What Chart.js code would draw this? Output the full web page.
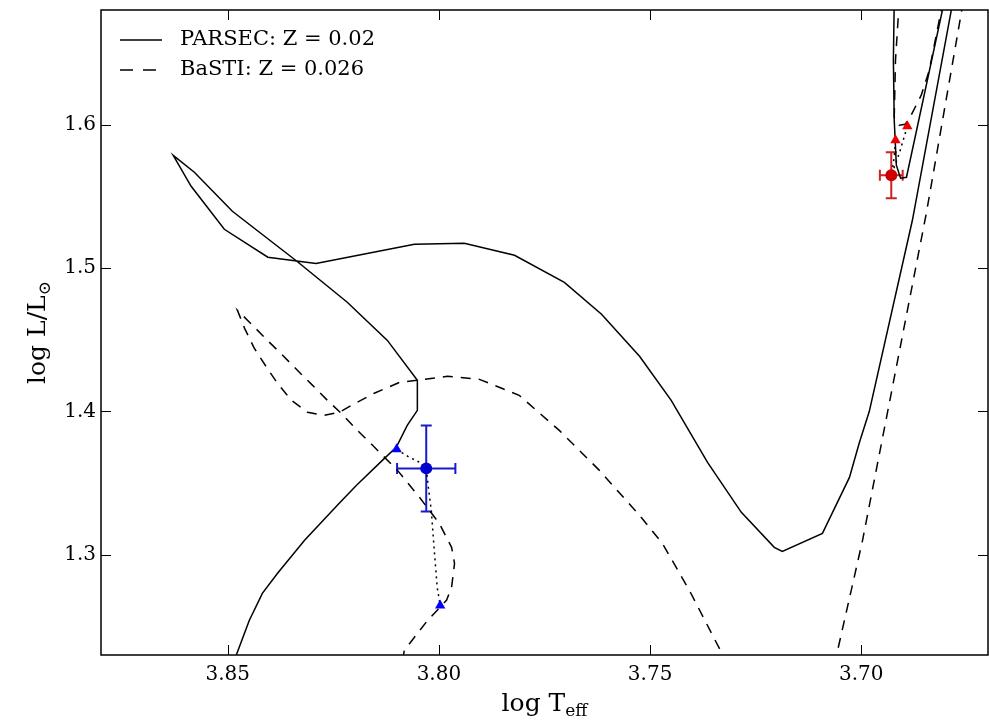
<!DOCTYPE html>
<html>
<head>
<meta charset="utf-8">
<script src="https://cdn.jsdelivr.net/npm/chart.js@4.4.0/dist/chart.umd.min.js"></script>
<style>
  body { margin: 0; background: #fff; }
</style>
</head>
<body>
<canvas id="hrChart" width="989" height="726"></canvas>
<script>
// ticks
const xTicks = [3.85, 3.80, 3.75, 3.70];
const yTicks = [1.3, 1.4, 1.5, 1.6];

// PARSEC isochrone, Z = 0.02 (log Teff, log L)
const parsecT = [3.8489, 3.8480, 3.8449, 3.8418, 3.8382, 3.8318, 3.8236, 3.8195, 3.8129, 3.8101,
  3.8075, 3.8051, 3.8051, 3.8122, 3.8217, 3.8337, 3.8489, 3.8579, 3.8629, 3.8587, 3.8508, 3.8405,
  3.8291, 3.8058, 3.7940, 3.7821, 3.7703, 3.7615, 3.7525, 3.7450, 3.7364, 3.7284, 3.7206, 3.7187,
  3.7092, 3.7028, 3.7005, 3.6981, 3.6879, 3.6787, 3.6782];
const parsecL = [1.2227, 1.2297, 1.2541, 1.2730, 1.2870, 1.3100, 1.3358, 1.3484, 1.3672, 1.3749,
  1.3902, 1.4007, 1.4216, 1.4495, 1.4761, 1.5049, 1.5396, 1.5668, 1.5786, 1.5572, 1.5270, 1.5075,
  1.5031, 1.5165, 1.5172, 1.5089, 1.4900, 1.4677, 1.4384, 1.4077, 1.3644, 1.3295, 1.3051, 1.3023,
  1.3149, 1.3539, 1.3777, 1.4000, 1.5333, 1.6798, 1.6868];
const parsecLoopT = [3.6922, 3.6924, 3.6922, 3.6917, 3.6907, 3.6893, 3.6808, 3.6803];
const parsecLoopL = [1.6868, 1.6449, 1.6031, 1.5717, 1.5626, 1.5633, 1.6798, 1.6868];

// BaSTI isochrone, Z = 0.026
const bastiT = [3.8086, 3.8082, 3.8027, 3.7982, 3.7970, 3.7963, 3.7970, 3.7999, 3.8046, 3.8098,
  3.8157, 3.8193, 3.8231, 3.8264, 3.8299, 3.8335, 3.8370, 3.8406, 3.8441, 3.8477, 3.8460, 3.8437,
  3.8408, 3.8382, 3.8349, 3.8311, 3.8271, 3.8236, 3.8207, 3.8153, 3.8093, 3.7980, 3.7904, 3.7810,
  3.7715, 3.7620, 3.7525, 3.7471, 3.7407, 3.7336, 3.7322];
const bastiL = [1.2262, 1.2332, 1.2541, 1.2681, 1.2772, 1.2939, 1.3051, 1.3218, 1.3400, 1.3588,
  1.3763, 1.3867, 1.3986, 1.4077, 1.4181, 1.4286, 1.4391, 1.4495, 1.4600, 1.4705, 1.4579, 1.4440,
  1.4307, 1.4195, 1.4077, 1.3993, 1.3972, 1.3993, 1.4042, 1.4126, 1.4202, 1.4244, 1.4223, 1.4112,
  1.3867, 1.3588, 1.3274, 1.3079, 1.2751, 1.2346, 1.2262];
const bastiRgbT = [3.7064, 3.6997, 3.6846, 3.6758];
const bastiRgbL = [1.2228, 1.3100, 1.5382, 1.6868];
const bastiLoopT = [3.6910, 3.6919, 3.6922, 3.6910, 3.6896, 3.6882, 3.6858, 3.6839, 3.6806];
const bastiLoopL = [1.6868, 1.6449, 1.6052, 1.5996, 1.6003, 1.6066, 1.6206, 1.6380, 1.6868];

// blue star
const blueObsT = [3.8030], blueObsL = [1.3602];
const blueErrT = [0.0069], blueErrL = [0.030];
const blueTriT = [3.8100, 3.7997], blueTriL = [1.3735, 1.2646];
const blueTrackT = [3.8100, 3.8070, 3.8041, 3.8030, 3.8025, 3.8018, 3.8011, 3.8004, 3.7997];
const blueTrackL = [1.3735, 1.3679, 1.3638, 1.3602, 1.3470, 1.3309, 1.3030, 1.2772, 1.2646];

// red star
const redObsT = [3.6929], redObsL = [1.5647];
const redErrT = [0.0027], redErrL = [0.016];
const redTriT = [3.6891, 3.6919], redTriL = [1.5989, 1.5891];
const redTrackT = [3.6891, 3.6910, 3.6929, 3.6922, 3.6919];
const redTrackL = [1.5989, 1.5800, 1.5647, 1.5770, 1.5891];

const serif = "'DejaVu Serif', serif";
const pts = (xs, ys) => xs.map((x, i) => ({ x: x, y: ys[i] }));

function lineSet(label, xs, ys, dash, order) {
  return {
    label: label, data: pts(xs, ys), showLine: true, borderColor: '#000', borderWidth: 1.5,
    borderDash: dash, pointRadius: 0, fill: false, order: order
  };
}
function markSet(xs, ys, style, color) {
  return {
    data: pts(xs, ys), pointStyle: style, pointRadius: 6, backgroundColor: color,
    borderWidth: 0, order: 0
  };
}

const errorBars = [
  { t: blueObsT, l: blueObsL, et: blueErrT, el: blueErrL, color: '#1a1acc' },
  { t: redObsT, l: redObsL, et: redErrT, el: redErrL, color: '#cc2222' }
];

const errorBarPlugin = {
  id: 'errorBars',
  beforeDatasetsDraw(chart) {
    const ctx = chart.ctx, xs = chart.scales.x, ys = chart.scales.y;
    ctx.save();
    ctx.lineWidth = 2;
    errorBars.forEach(e => {
      ctx.strokeStyle = e.color;
      e.t.forEach((t, i) => {
        const x = xs.getPixelForValue(t), y = ys.getPixelForValue(e.l[i]);
        const x1 = xs.getPixelForValue(t - e.et[i]), x2 = xs.getPixelForValue(t + e.et[i]);
        const y1 = ys.getPixelForValue(e.l[i] - e.el[i]), y2 = ys.getPixelForValue(e.l[i] + e.el[i]);
        const cap = 5.5;
        ctx.beginPath();
        ctx.moveTo(x1, y); ctx.lineTo(x2, y);
        ctx.moveTo(x, y1); ctx.lineTo(x, y2);
        ctx.moveTo(x1, y - cap); ctx.lineTo(x1, y + cap);
        ctx.moveTo(x2, y - cap); ctx.lineTo(x2, y + cap);
        ctx.moveTo(x - cap, y1); ctx.lineTo(x + cap, y1);
        ctx.moveTo(x - cap, y2); ctx.lineTo(x + cap, y2);
        ctx.stroke();
      });
    });
    ctx.restore();
  }
};

function drawSubText(ctx, main, sub, cx, cy, rot) {
  ctx.save();
  ctx.translate(cx, cy);
  ctx.rotate(rot);
  ctx.fillStyle = '#000';
  ctx.textAlign = 'left';
  ctx.textBaseline = 'alphabetic';
  ctx.font = '25px ' + serif;
  const w1 = ctx.measureText(main).width;
  ctx.font = '17px ' + serif;
  const w2 = ctx.measureText(sub).width;
  const x0 = -(w1 + w2) / 2;
  ctx.font = '25px ' + serif;
  ctx.fillText(main, x0, 0);
  ctx.font = '17px ' + serif;
  ctx.fillText(sub, x0 + w1, 5);
  ctx.restore();
}

const framePlugin = {
  id: 'frame',
  afterDraw(chart) {
    const ctx = chart.ctx, a = chart.chartArea, xs = chart.scales.x, ys = chart.scales.y;
    ctx.save();
    ctx.strokeStyle = '#000';
    ctx.lineWidth = 1.5;
    ctx.strokeRect(a.left, a.top, a.right - a.left, a.bottom - a.top);
    ctx.lineWidth = 1;
    ctx.beginPath();
    xTicks.forEach(v => {
      const x = Math.round(xs.getPixelForValue(v)) + 0.5;
      ctx.moveTo(x, a.bottom); ctx.lineTo(x, a.bottom - 10);
      ctx.moveTo(x, a.top); ctx.lineTo(x, a.top + 10);
    });
    yTicks.forEach(v => {
      const y = Math.round(ys.getPixelForValue(v)) + 0.5;
      ctx.moveTo(a.left, y); ctx.lineTo(a.left + 10, y);
      ctx.moveTo(a.right, y); ctx.lineTo(a.right - 10, y);
    });
    ctx.stroke();

    // legend (matplotlib style, inside the axes, no frame)
    const items = chart.data.datasets.filter(d => d.label);
    ctx.font = '21px ' + serif;
    ctx.fillStyle = '#000';
    ctx.textBaseline = 'middle';
    items.forEach((d, i) => {
      const y = 40 + i * 30;
      ctx.lineWidth = 1.5;
      ctx.setLineDash(d.borderDash.length ? [13, 10] : []);
      ctx.beginPath();
      ctx.moveTo(120, y); ctx.lineTo(162, y);
      ctx.stroke();
      ctx.setLineDash([]);
      ctx.fillText(d.label, 180, y);
    });
    ctx.restore();

    drawSubText(ctx, 'log T', 'eff', (a.left + a.right) / 2, 711, 0);
    drawSubText(ctx, 'log L/L', '\u2299', 45, (a.top + a.bottom) / 2, -Math.PI / 2);
  }
};

new Chart(document.getElementById('hrChart').getContext('2d'), {
  type: 'scatter',
  data: {
    datasets: [
      markSet(blueTriT, blueTriL, 'triangle', '#0000ff'),
      markSet(blueObsT, blueObsL, 'circle', '#0000cc'),
      markSet(redTriT, redTriL, 'triangle', '#ee0000'),
      markSet(redObsT, redObsL, 'circle', '#cc0000'),
      lineSet(null, blueTrackT, blueTrackL, [2, 4], 1),
      lineSet(null, redTrackT, redTrackL, [2, 4], 1),
      lineSet('PARSEC: Z = 0.02', parsecT, parsecL, [], 2),
      lineSet(null, parsecLoopT, parsecLoopL, [], 2),
      lineSet('BaSTI: Z = 0.026', bastiT, bastiL, [10, 8], 2),
      lineSet(null, bastiRgbT, bastiRgbL, [10, 8], 2),
      lineSet(null, bastiLoopT, bastiLoopL, [10, 8], 2)
    ]
  },
  options: {
    responsive: false,
    animation: false,
    devicePixelRatio: 1,
    layout: { autoPadding: false, padding: { top: 10, right: 1, left: 0, bottom: 0 } },
    plugins: { legend: { display: false }, tooltip: { enabled: false } },
    scales: {
      x: {
        type: 'linear', reverse: true, min: 3.67, max: 3.88,
        grid: { display: false, drawTicks: false },
        border: { display: false },
        ticks: { padding: 8, color: '#000', font: { family: serif, size: 20 }, autoSkip: false,
          maxRotation: 0, callback: v => Number(v).toFixed(2) },
        afterBuildTicks: s => { s.ticks = xTicks.map(v => ({ value: v })); },
        afterFit: s => { s.height = 71; s.paddingLeft = 0; s.paddingRight = 0; }
      },
      y: {
        type: 'linear', min: 1.23, max: 1.68,
        grid: { display: false, drawTicks: false },
        border: { display: false },
        ticks: { padding: 5, color: '#000', font: { family: serif, size: 20 }, autoSkip: false,
          callback: v => Number(v).toFixed(1) },
        afterBuildTicks: s => { s.ticks = yTicks.map(v => ({ value: v })); },
        afterFit: s => { s.width = 101; s.paddingTop = 0; s.paddingBottom = 0; }
      }
    }
  },
  plugins: [errorBarPlugin, framePlugin]
});
</script>
</body>
</html>
